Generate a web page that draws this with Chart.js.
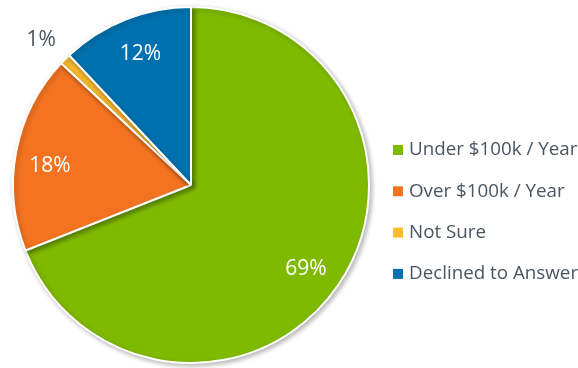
<!DOCTYPE html>
<html>
<head>
<meta charset="utf-8">
<script src="https://cdn.jsdelivr.net/npm/chart.js@4"></script>
<style>
  html, body { margin: 0; padding: 0; background: #fff; }
  #wrap { width: 578px; height: 368px; position: relative; }
</style>
</head>
<body>
<div id="wrap"><canvas id="c" width="578" height="368"></canvas></div>
<script>
// Household income responses
const categories = ['Under $100k / Year', 'Over $100k / Year', 'Not Sure', 'Declined to Answer'];
const shares = [69, 18, 1, 12];
const sliceColors = ['#7fba00', '#f47321', '#fdbc2c', '#0071b0'];
const labelColors = ['#ffffff', '#ffffff', '#4a5561', '#ffffff'];
// where each value label sits: fraction of the radius, and a small turn (degrees) off the slice middle
const labelRadius = [0.80, 0.80, 1.17, 0.79];
const labelTurn = [2, -3, -1.0, 0.5];

const FONT = '"Open Sans", Lato, sans-serif';

// soft shadow behind the pie
const shadowPlugin = {
  id: 'pieShadow',
  beforeDatasetsDraw(chart) {
    const ctx = chart.ctx;
    ctx.save();
    ctx.shadowColor = 'rgba(0,0,0,0.28)';
    ctx.shadowBlur = 5;
    ctx.shadowOffsetX = 2;
    ctx.shadowOffsetY = 2;
  },
  afterDatasetsDraw(chart) {
    chart.ctx.restore();
  }
};

// percentage labels on the slices
const valueLabels = {
  id: 'valueLabels',
  afterDatasetsDraw(chart) {
    const ctx = chart.ctx;
    const meta = chart.getDatasetMeta(0);
    ctx.save();
    ctx.font = '21px ' + FONT;
    ctx.textAlign = 'center';
    ctx.textBaseline = 'middle';
    meta.data.forEach((arc, i) => {
      const mid = (arc.startAngle + arc.endAngle) / 2 + labelTurn[i] * Math.PI / 180;
      const r = arc.outerRadius * labelRadius[i];
      ctx.fillStyle = labelColors[i];
      ctx.fillText(shares[i] + '%', arc.x + Math.cos(mid) * r, arc.y + Math.sin(mid) * r);
    });
    ctx.restore();
  }
};

// legend column on the right
const sideLegend = {
  id: 'sideLegend',
  afterDraw(chart) {
    const ctx = chart.ctx;
    ctx.save();
    ctx.font = '18.8px ' + FONT;
    ctx.textBaseline = 'middle';
    ctx.textAlign = 'left';
    const x0 = 393, y0 = 150, step = 41.3, box = 10;
    categories.forEach((name, i) => {
      const y = y0 + i * step;
      ctx.fillStyle = sliceColors[i];
      ctx.fillRect(x0, y - box / 2, box, box);
      ctx.fillStyle = '#4a5561';
      ctx.fillText(name, x0 + 16, y);
    });
    ctx.restore();
  }
};

new Chart(document.getElementById('c'), {
  type: 'pie',
  data: {
    labels: categories,
    datasets: [{
      data: shares,
      backgroundColor: sliceColors,
      borderColor: '#ffffff',
      borderWidth: 2
    }]
  },
  options: {
    responsive: false,
    animation: false,
    layout: { padding: { left: 12, top: 6, right: 208, bottom: 4 } },
    plugins: {
      legend: { display: false },
      tooltip: { enabled: false }
    }
  },
  plugins: [shadowPlugin, valueLabels, sideLegend]
});
</script>
</body>
</html>
